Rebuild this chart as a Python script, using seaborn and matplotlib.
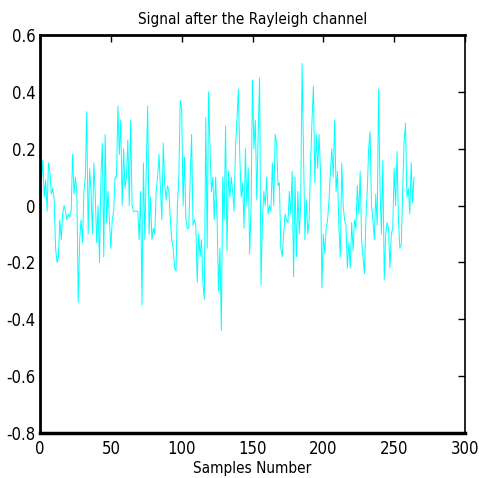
import numpy as np
import pandas as pd
import seaborn as sns
import matplotlib
matplotlib.use("Agg")
import matplotlib.pyplot as plt
from matplotlib.ticker import FuncFormatter

# Received signal samples after the Rayleigh fading channel
signal = [
    0.18, 0.08, 0.16, 0.03, 0.09, -0.02, 0.15, 0.12, 0.04, 0.06,
    0.02, -0.15, -0.20, -0.18, -0.05, -0.12, -0.03, 0.00, -0.02, -0.05,
    -0.03, -0.04, -0.02, 0.18, 0.04, 0.10, 0.05, -0.34, -0.12, -0.05,
    -0.13, 0.05, 0.10, 0.33, -0.10, 0.13, 0.05, -0.10, 0.15, 0.04,
    -0.13, 0.00, -0.20, 0.10, 0.22, -0.18, 0.25, -0.06, 0.05, -0.05,
    -0.15, -0.05, -0.02, 0.10, 0.10, 0.35, 0.18, 0.30, 0.00, 0.20,
    0.06, 0.10, 0.23, 0.00, 0.30, 0.00, -0.02, -0.02, -0.02, -0.02,
    -0.12, 0.05, -0.35, 0.15, -0.12, 0.13, 0.35, -0.10, 0.03, -0.12,
    -0.08, -0.10, 0.05, 0.10, 0.18, 0.06, -0.05, 0.22, 0.08, 0.02,
    0.07, 0.05, -0.05, -0.12, -0.15, -0.22, -0.23, 0.00, 0.10, 0.37,
    0.34, 0.00, 0.17, -0.05, -0.08, -0.08, 0.10, 0.25, -0.07, -0.05,
    -0.07, -0.27, -0.10, -0.18, -0.12, -0.27, -0.33, 0.31, -0.15, 0.40,
    0.20, 0.05, 0.10, -0.05, 0.10, -0.05, -0.30, -0.15, -0.44, 0.10,
    -0.05, 0.28, -0.16, 0.12, 0.03, 0.10, 0.05, -0.02, 0.20, 0.30,
    0.41, 0.18, 0.03, 0.08, -0.08, 0.20, 0.00, 0.13, -0.17, 0.00,
    0.44, 0.20, 0.30, 0.02, 0.25, 0.45, -0.28, -0.05, 0.05, 0.00,
    0.10, -0.03, 0.00, -0.02, 0.15, 0.00, 0.25, 0.22, 0.07, 0.08,
    -0.15, -0.18, -0.10, -0.03, -0.05, -0.06, 0.05, -0.03, 0.12, -0.25,
    0.10, -0.18, 0.05, -0.10, 0.00, 0.50, 0.18, -0.12, 0.02, -0.10,
    -0.05, 0.15, 0.30, 0.42, 0.08, 0.25, 0.13, 0.25, 0.12, -0.29,
    -0.10, -0.17, -0.08, -0.05, 0.02, 0.12, 0.20, 0.10, 0.30, 0.05,
    0.12, -0.08, -0.18, 0.15, 0.00, -0.05, -0.07, -0.22, -0.13, -0.22,
    -0.06, -0.16, -0.05, -0.08, 0.07, -0.03, 0.12, -0.12, -0.18, -0.24,
    -0.05, 0.05, 0.20, 0.26, 0.00, -0.05, -0.12, 0.04, -0.07, 0.41,
    0.06, -0.10, 0.16, -0.26, -0.10, -0.06, -0.08, -0.22, -0.10, -0.08,
    0.13, 0.00, 0.19, -0.05, -0.15, -0.14, 0.05, 0.22, 0.29, 0.03,
    0.06, -0.03, 0.15, 0.01, 0.10,
]
x_ticks = [0, 50, 100, 150, 200, 250, 300]
y_ticks = [-0.8, -0.6, -0.4, -0.2, 0.0, 0.2, 0.4, 0.6]

df = pd.DataFrame({"sample": np.arange(len(signal)), "value": signal})

sns.set_style("white")
plt.rcParams["font.family"] = ["DejaVu Sans", "Liberation Sans"]
plt.rcParams["font.stretch"] = "condensed"
for key in ("text.color", "axes.labelcolor", "xtick.color", "ytick.color"):
    plt.rcParams[key] = "black"

fig = plt.figure(figsize=(4.79, 4.78), dpi=100)
ax = fig.add_axes([40 / 479, 1 - 433 / 478, 425 / 479, 398 / 478])

sns.lineplot(data=df, x="sample", y="value", color="#00FFFF", linewidth=0.7, ax=ax)

ax.set_xlim(0, 300)
ax.set_ylim(-0.8, 0.6)
ax.set_xticks(x_ticks)
ax.set_yticks(y_ticks)
ax.yaxis.set_major_formatter(FuncFormatter(lambda v, p: f"{v:g}" if abs(v) > 1e-9 else "0"))

ax.tick_params(direction="in", length=5, width=1, top=True, right=True,
               labelsize=12, colors="black")
ax.tick_params(axis="x", pad=5)
ax.tick_params(axis="y", pad=3)
for side, lw in [("left", 2.0), ("bottom", 2.5), ("top", 2.0), ("right", 1.2)]:
    ax.spines[side].set_visible(True)
    ax.spines[side].set_linewidth(lw)
    ax.spines[side].set_color("black")

ax.set_title("Signal after the Rayleigh channel", fontsize=11, pad=8, color="black")
ax.set_xlabel("Samples Number", fontsize=11, labelpad=2, color="black")
ax.set_ylabel("")

fig.savefig("out.png", dpi=100)
